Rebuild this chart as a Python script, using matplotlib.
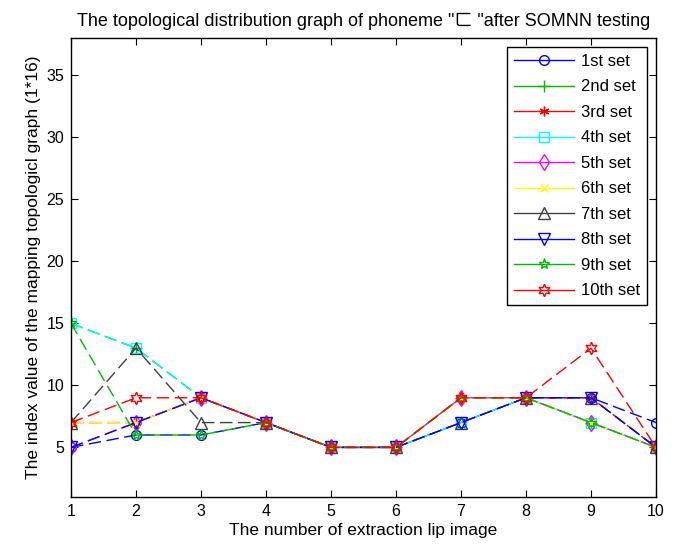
import matplotlib
matplotlib.use("Agg")
import matplotlib.pyplot as plt

plt.rcParams['font.family'] = ['Liberation Sans', 'Noto Sans CJK SC', 'DejaVu Sans']

x = [1, 2, 3, 4, 5, 6, 7, 8, 9, 10]
labels = ["1st set", "2nd set", "3rd set", "4th set", "5th set",
          "6th set", "7th set", "8th set", "9th set", "10th set"]
s1 = [5, 6, 6, 7, 5, 5, 7, 9, 9, 7]
s2 = [15, 13, 9, 7, 5, 5, 9, 9, 7, 5]
s3 = [7, 7, 9, 7, 5, 5, 9, 9, 9, 5]
s4 = [15, 13, 9, 7, 5, 5, 7, 9, 7, 5]
s5 = [5, 7, 9, 7, 5, 5, 9, 9, 7, 5]
s6 = [7, 7, 9, 7, 5, 5, 9, 9, 7, 5]
s7 = [7, 13, 7, 7, 5, 5, 7, 9, 9, 5]
s8 = [5, 7, 9, 7, 5, 5, 7, 9, 9, 5]
s9 = [15, 6, 6, 7, 5, 5, 9, 9, 7, 5]
s10 = [7, 9, 9, 7, 5, 5, 9, 9, 13, 5]
series = [s1, s2, s3, s4, s5, s6, s7, s8, s9, s10]

colors = ['#0000ff', '#00bb00', '#ff0000', '#00ffff', '#ff00ff',
          '#ffff00', '#404040', '#0000ff', '#00bb00', '#ff0000']
markers = ['o', '+', (6, 2, 0), 's', 'd', 'x', '^', 'v', '*', (6, 1, 0)]
sizes = [7, 9, 7, 7, 8, 6, 8, 8, 8, 9]

fig = plt.figure(figsize=(6.78, 5.47), dpi=100)
ax = fig.add_axes([0.1047, 0.0914, 0.8629, 0.8391])

for ys, lab, c, m, ms in zip(series, labels, colors, markers, sizes):
    ax.plot(x, ys, color=c, marker=m, markersize=ms, markerfacecolor='none',
            markeredgecolor=c, markeredgewidth=1.0, linewidth=1.0,
            linestyle=(0, (9, 4)), label=lab)

ax.set_xlim(1, 10)
ax.set_ylim(1, 38)
ax.set_xticks(x)
ax.set_yticks([5, 10, 15, 20, 25, 30, 35])
ax.tick_params(direction='in', top=True, right=True, labelsize=11.5, length=5, pad=5)
for sp in ax.spines.values():
    sp.set_linewidth(1.0)

ax.set_title('The topological distribution graph of phoneme "ㄈ "after SOMNN testing',
             fontsize=13, pad=9)
ax.set_xlabel('The number of extraction lip image', fontsize=12.5, labelpad=3)
ax.set_ylabel('The index value of the mapping topologicl graph (1*16)', fontsize=12.5, labelpad=4)

leg = ax.legend(loc='upper right', fontsize=12, handlelength=3.6, fancybox=False,
                edgecolor='black', framealpha=1, borderaxespad=0.55,
                labelspacing=0.63, handletextpad=0.45, borderpad=0.4)
leg.get_frame().set_linewidth(1.0)
for ln in leg.get_lines():
    ln.set_linestyle('-')

fig.savefig('out.png', dpi=100)
